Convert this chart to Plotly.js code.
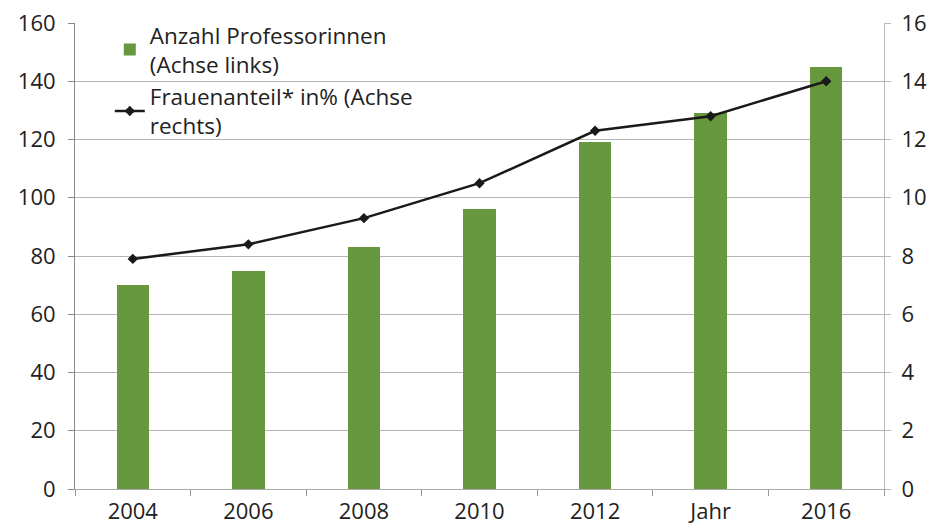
<!DOCTYPE html>
<html>
<head>
<meta charset="utf-8">
<script src="https://cdn.plot.ly/plotly-3.0.1.min.js"></script>
<style>html,body{margin:0;padding:0;background:#fff;}#chart{width:937px;height:528px;}</style>
</head>
<body>
<div id="chart"></div>
<script>
const categories = ["2004", "2006", "2008", "2010", "2012", "2014", "2016"];
const tickLabels = ["2004", "2006", "2008", "2010", "2012", "Jahr", "2016"];
const professorinnen = [70, 75, 83, 96, 119, 129, 145];
const frauenanteil = [7.9, 8.4, 9.3, 10.5, 12.3, 12.8, 14.0];
const barName = "Anzahl Professorinnen<br>(Achse links)";
const lineName = "Frauenanteil* in% (Achse<br>rechts)";

const FONT = "Open Sans, Noto Sans, sans-serif";
const TXT = "#222";

const traces = [
  {
    type: "bar", x: categories, y: professorinnen, name: barName,
    marker: {color: "#67983F"}, width: 0.28, yaxis: "y"
  },
  {
    type: "scatter", mode: "lines+markers", x: categories, y: frauenanteil, name: lineName,
    line: {color: "#1a1a1a", width: 2.5}, marker: {symbol: "diamond", size: 8, color: "#1a1a1a"},
    yaxis: "y2"
  }
];

const layout = {
  width: 937, height: 528,
  margin: {l: 75, r: 53, t: 23, b: 39},
  paper_bgcolor: "#fff", plot_bgcolor: "#fff",
  font: {family: FONT, size: 22, color: TXT},
  bargap: 0,
  showlegend: true,
  legend: {
    x: 0.043, y: 1.02, xanchor: "left", yanchor: "top",
    bgcolor: "rgba(0,0,0,0)", font: {family: FONT, size: 22.5, color: TXT},
    tracegroupgap: 12, itemwidth: 30
  },
  xaxis: {
    type: "category", tickvals: categories, ticktext: tickLabels,
    tickson: "boundaries", ticks: "outside", ticklen: 6, tickcolor: "#999",
    ticklabelstandoff: 3,
    showline: true, linecolor: "#aaa", linewidth: 1,
    showgrid: false, zeroline: false,
    tickfont: {family: FONT, size: 22, color: TXT}
  },
  yaxis: {
    range: [0, 160], dtick: 20, ticks: "outside", ticklen: 6, tickcolor: "#888",
    ticklabelstandoff: 8,
    showline: true, linecolor: "#888", linewidth: 1,
    showgrid: true, gridcolor: "#b5b5b5", gridwidth: 1, zeroline: false,
    tickfont: {family: FONT, size: 22, color: TXT}
  },
  yaxis2: {
    overlaying: "y", side: "right", range: [0, 16], dtick: 2,
    ticks: "outside", ticklen: 6, tickcolor: "#bbb",
    ticklabelstandoff: 6,
    showline: true, linecolor: "#bbb", linewidth: 1,
    showgrid: false, zeroline: false,
    tickfont: {family: FONT, size: 22, color: TXT}
  }
};

Plotly.newPlot("chart", traces, layout, {staticPlot: true, displayModeBar: false});
</script>
</body>
</html>
